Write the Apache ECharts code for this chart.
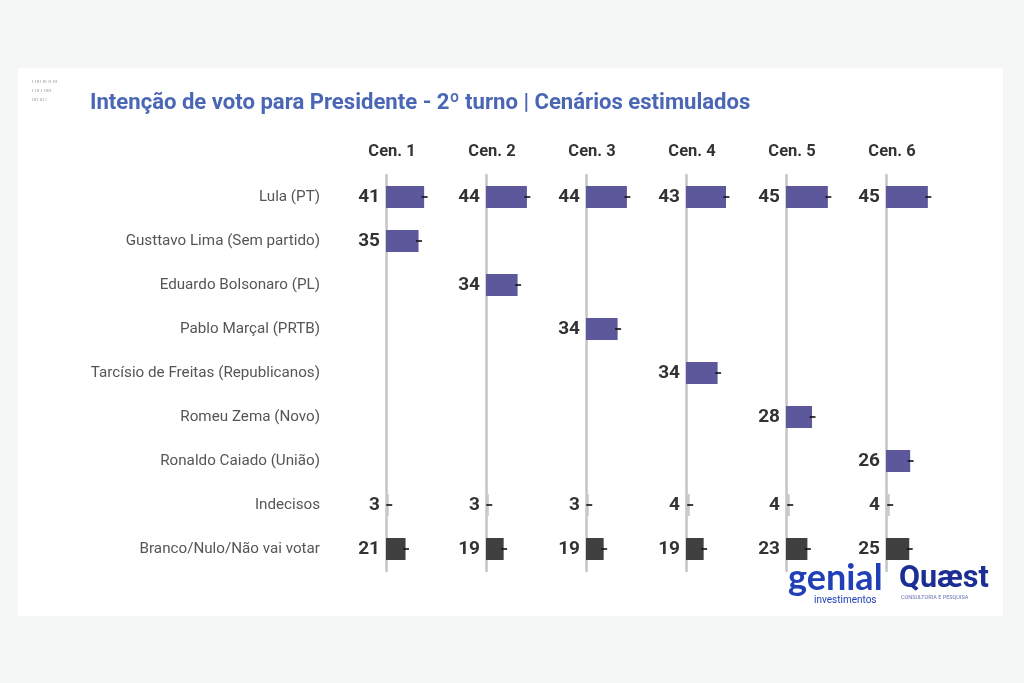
<!DOCTYPE html>
<html><head><meta charset="utf-8">
<script src="https://cdn.jsdelivr.net/npm/echarts@6/dist/echarts.min.js"></script>
<style>html,body{margin:0;padding:0;background:#f5f6f6}#c{width:1024px;height:683px}</style>
</head><body><div id="c"></div>
<script>
const categories = ['Lula (PT)','Gusttavo Lima (Sem partido)','Eduardo Bolsonaro (PL)','Pablo Marçal (PRTB)','Tarcísio de Freitas (Republicanos)','Romeu Zema (Novo)','Ronaldo Caiado (União)','Indecisos','Branco/Nulo/Não vai votar'];
const scenarios = ['Cen. 1','Cen. 2','Cen. 3','Cen. 4','Cen. 5','Cen. 6'];
const lula = [41,44,44,43,45,45];
const opponent = [35,34,34,34,28,26];
const indecisos = [3,3,3,4,4,4];
const branco = [21,19,19,19,23,25];
const title = 'Intenção de voto para Presidente - 2º turno | Cenários estimulados';

const PURPLE = '#5d589c', GREY = '#c9c9c9', DARK = '#404040';
const FONT = 'Roboto';

const grids = [], xAxes = [], yAxes = [], series = [], graphics = [];
scenarios.forEach((s, i) => {
  const left = 386 + 100 * i;
  grids.push({left: left, top: 175, width: 93, height: 396});
  xAxes.push({gridIndex: i, type: 'value', min: 0, max: 100, show: false});
  yAxes.push({gridIndex: i, type: 'category', data: categories, inverse: true,
    axisLine: {show: true, lineStyle: {color: '#c4c4c4', width: 2.5}},
    axisTick: {show: false},
    axisLabel: {show: i === 0, margin: 66, fontFamily: FONT, fontSize: 15.2, color: '#555'}
  });
  const vals = categories.map(() => '-');
  vals[0] = {value: lula[i], itemStyle: {color: PURPLE}};
  vals[i + 1] = {value: opponent[i], itemStyle: {color: PURPLE}};
  vals[7] = {value: indecisos[i], itemStyle: {color: GREY}};
  vals[8] = {value: branco[i], itemStyle: {color: DARK}};
  series.push({type: 'bar', xAxisIndex: i, yAxisIndex: i, data: vals, barWidth: 22,
    label: {show: true, position: 'left', distance: 6, fontFamily: FONT, fontWeight: 'bold', fontSize: 19, color: '#333'},
    itemStyle: {borderWidth: 0}
  });
  const raw = [[lula[i], 0], [opponent[i], i + 1], [indecisos[i], 7], [branco[i], 8]];
  series.push({type: 'scatter', xAxisIndex: i, yAxisIndex: i, symbol: 'rect', symbolSize: [6, 2],
    itemStyle: {color: '#111'}, silent: true, z: 5,
    data: raw.map(d => [d[0] + 0.5, categories[d[1]]])
  });
  graphics.push({type: 'text', x: left + 6, y: 152, style: {text: s, fontFamily: FONT, fontWeight: 'bold', fontSize: 16.5, fill: '#333', textAlign: 'center', textVerticalAlign: 'middle'}});
});

graphics.unshift({type: 'rect', shape: {x: 18, y: 68, width: 985, height: 548}, style: {fill: '#ffffff'}, z: -10});
graphics.push({type: 'text', x: 90, y: 103, style: {text: title, fontFamily: FONT, fontWeight: 'bold', fontSize: 22.1, fill: '#4a66b5', textVerticalAlign: 'middle'}});
graphics.push({type: 'text', left: 32, top: 77, style: {text: 'ı ıııı ııı ıı ııı\nı ııı ı ııııı\nıııı ııı ı', fontFamily: FONT, fontSize: 6, lineHeight: 9, fill: '#aaaaaa'}});
graphics.push({type: 'text', x: 788, y: 578, style: {text: 'genial', fontFamily: 'Lato', fontWeight: 'bold', fontSize: 36, fill: '#2140b8', textVerticalAlign: 'middle'}});
graphics.push({type: 'text', x: 814, y: 600, style: {text: 'investimentos', fontFamily: FONT, fontSize: 10, fill: '#2140b8', textVerticalAlign: 'middle'}});
graphics.push({type: 'text', x: 899, y: 579, style: {text: 'Quæst', fontFamily: FONT, fontWeight: 'bold', fontSize: 30.5, fill: '#1c2d94', textVerticalAlign: 'middle'}});
graphics.push({type: 'text', x: 901, y: 598, style: {text: 'CONSULTORIA E PESQUISA', fontFamily: FONT, fontSize: 5.5, fill: '#6a74b0', textVerticalAlign: 'middle'}});

const chart = echarts.init(document.getElementById('c'));
chart.setOption({
  backgroundColor: '#f5f6f6',
  animation: false,
  grid: grids, xAxis: xAxes, yAxis: yAxes, series: series, graphic: graphics
});
</script></body></html>
